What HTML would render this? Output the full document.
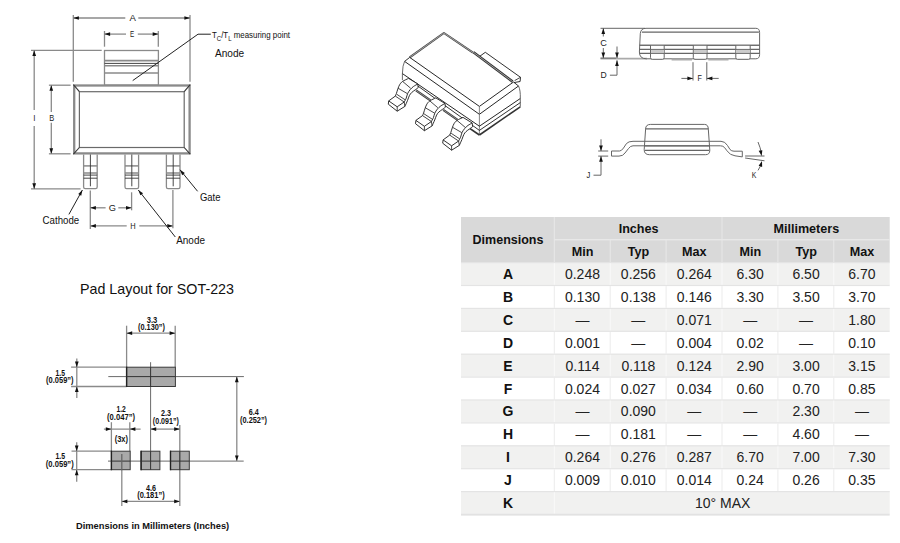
<!DOCTYPE html>
<html><head><meta charset="utf-8"><style>
html,body{margin:0;padding:0;background:#fff;width:900px;height:543px;overflow:hidden}
svg{display:block}
text{font-family:"Liberation Sans",sans-serif}
</style></head><body>
<svg width="900" height="543" viewBox="0 0 900 543">
<line x1="73.3" y1="15" x2="73.3" y2="81.7" stroke="#8a8a8a" stroke-width="1.3" stroke-linecap="butt"/>
<line x1="190" y1="15" x2="190" y2="81.7" stroke="#8a8a8a" stroke-width="1.3" stroke-linecap="butt"/>
<line x1="73.3" y1="18" x2="125.3" y2="18" stroke="#8a8a8a" stroke-width="1.3" stroke-linecap="butt"/>
<line x1="138.3" y1="18" x2="190" y2="18" stroke="#8a8a8a" stroke-width="1.3" stroke-linecap="butt"/>
<path d="M73.3,18 L78.9,16.15 L78.9,19.85Z" fill="#111"/>
<path d="M190,18 L184.4,19.85 L184.4,16.15Z" fill="#111"/>
<text x="132.8" y="20.8" font-size="8.8" text-anchor="middle" font-weight="normal" fill="#222"  textLength="6.4" lengthAdjust="spacingAndGlyphs">A</text>
<line x1="104.5" y1="31" x2="104.5" y2="46.7" stroke="#8a8a8a" stroke-width="1.3" stroke-linecap="butt"/>
<line x1="158.3" y1="31" x2="158.3" y2="46.7" stroke="#8a8a8a" stroke-width="1.3" stroke-linecap="butt"/>
<line x1="104.5" y1="34.1" x2="126" y2="34.1" stroke="#8a8a8a" stroke-width="1.3" stroke-linecap="butt"/>
<line x1="137.8" y1="34.1" x2="158.3" y2="34.1" stroke="#8a8a8a" stroke-width="1.3" stroke-linecap="butt"/>
<path d="M104.5,34.1 L110.1,32.25 L110.1,35.95Z" fill="#111"/>
<path d="M158.3,34.1 L152.7,35.95 L152.7,32.25Z" fill="#111"/>
<text x="132.2" y="37.1" font-size="8.8" text-anchor="middle" font-weight="normal" fill="#222"  textLength="4.2" lengthAdjust="spacingAndGlyphs">E</text>
<rect x="104.5" y="50.5" width="53.9" height="34.7" fill="none" stroke="#8a8a8a" stroke-width="1.3"/>
<line x1="104.5" y1="60.6" x2="158.3" y2="60.6" stroke="#8a8a8a" stroke-width="1.6" stroke-linecap="butt"/>
<line x1="104.5" y1="63.4" x2="158.3" y2="63.4" stroke="#444" stroke-width="1" stroke-linecap="butt"/>
<line x1="104.5" y1="65.7" x2="158.3" y2="65.7" stroke="#8a8a8a" stroke-width="1.6" stroke-linecap="butt"/>
<line x1="104.5" y1="73" x2="158.3" y2="73" stroke="#8a8a8a" stroke-width="1.6" stroke-linecap="butt"/>
<line x1="31" y1="50.3" x2="101.7" y2="50.3" stroke="#8a8a8a" stroke-width="1.3" stroke-linecap="butt"/>
<line x1="31" y1="188.9" x2="80.6" y2="188.9" stroke="#8a8a8a" stroke-width="1.3" stroke-linecap="butt"/>
<line x1="34.2" y1="50.3" x2="34.2" y2="110" stroke="#8a8a8a" stroke-width="1.3" stroke-linecap="butt"/>
<line x1="34.2" y1="126" x2="34.2" y2="188.9" stroke="#8a8a8a" stroke-width="1.3" stroke-linecap="butt"/>
<path d="M34.2,50.3 L36.05,55.9 L32.35,55.9Z" fill="#111"/>
<path d="M34.2,188.9 L32.35,183.3 L36.05,183.3Z" fill="#111"/>
<text x="34.3" y="120.9" font-size="8.8" text-anchor="middle" font-weight="normal" fill="#222"  textLength="2.2" lengthAdjust="spacingAndGlyphs">I</text>
<rect x="74.2" y="85.5" width="115.4" height="67.9" fill="none" stroke="#8a8a8a" stroke-width="2.3"/>
<rect x="79.4" y="91.7" width="104.8" height="55.8" fill="none" stroke="#6a6a6a" stroke-width="1.2"/>
<line x1="73.4" y1="84.7" x2="79.4" y2="91.7" stroke="#333" stroke-width="1.1" stroke-linecap="butt"/>
<line x1="190.2" y1="84.7" x2="184.2" y2="91.7" stroke="#333" stroke-width="1.1" stroke-linecap="butt"/>
<line x1="73.4" y1="154.1" x2="79.4" y2="147.5" stroke="#333" stroke-width="1.1" stroke-linecap="butt"/>
<line x1="190.2" y1="154.1" x2="184.2" y2="147.5" stroke="#333" stroke-width="1.1" stroke-linecap="butt"/>
<line x1="48.9" y1="85.2" x2="70.6" y2="85.2" stroke="#8a8a8a" stroke-width="1.3" stroke-linecap="butt"/>
<line x1="48.9" y1="153.8" x2="70.6" y2="153.8" stroke="#8a8a8a" stroke-width="1.3" stroke-linecap="butt"/>
<line x1="51.3" y1="85.2" x2="51.3" y2="112" stroke="#8a8a8a" stroke-width="1.3" stroke-linecap="butt"/>
<line x1="51.3" y1="122.8" x2="51.3" y2="153.8" stroke="#8a8a8a" stroke-width="1.3" stroke-linecap="butt"/>
<path d="M51.3,85.2 L53.15,90.8 L49.45,90.8Z" fill="#111"/>
<path d="M51.3,153.8 L49.45,148.2 L53.15,148.2Z" fill="#111"/>
<text x="51.7" y="121.1" font-size="8.8" text-anchor="middle" font-weight="normal" fill="#222"  textLength="5" lengthAdjust="spacingAndGlyphs">B</text>
<path d="M83.6,154.5 L83.6,187 Q83.6,188.6 85.2,188.6 L95.6,188.6 Q97.2,188.6 97.2,187 L97.2,154.5" fill="none" stroke="#8a8a8a" stroke-width="1.3" stroke-linejoin="round" />
<line x1="83.6" y1="165.9" x2="97.2" y2="165.9" stroke="#8a8a8a" stroke-width="1.5" stroke-linecap="butt"/>
<line x1="83.6" y1="173" x2="97.2" y2="173" stroke="#8a8a8a" stroke-width="1.5" stroke-linecap="butt"/>
<line x1="83.6" y1="175.1" x2="97.2" y2="175.1" stroke="#333" stroke-width="0.9" stroke-linecap="butt"/>
<line x1="83.6" y1="178.2" x2="97.2" y2="178.2" stroke="#333" stroke-width="0.9" stroke-linecap="butt"/>
<line x1="90.4" y1="154.5" x2="90.4" y2="186.3" stroke="#333" stroke-width="0.9" stroke-linecap="butt"/>
<path d="M125,154.5 L125,187 Q125,188.6 126.6,188.6 L137,188.6 Q138.6,188.6 138.6,187 L138.6,154.5" fill="none" stroke="#8a8a8a" stroke-width="1.3" stroke-linejoin="round" />
<line x1="125" y1="165.9" x2="138.6" y2="165.9" stroke="#8a8a8a" stroke-width="1.5" stroke-linecap="butt"/>
<line x1="125" y1="173" x2="138.6" y2="173" stroke="#8a8a8a" stroke-width="1.5" stroke-linecap="butt"/>
<line x1="125" y1="175.1" x2="138.6" y2="175.1" stroke="#333" stroke-width="0.9" stroke-linecap="butt"/>
<line x1="125" y1="178.2" x2="138.6" y2="178.2" stroke="#333" stroke-width="0.9" stroke-linecap="butt"/>
<line x1="131.8" y1="154.5" x2="131.8" y2="186.3" stroke="#333" stroke-width="0.9" stroke-linecap="butt"/>
<path d="M166.4,154.5 L166.4,187 Q166.4,188.6 168,188.6 L178.4,188.6 Q180,188.6 180,187 L180,154.5" fill="none" stroke="#8a8a8a" stroke-width="1.3" stroke-linejoin="round" />
<line x1="166.4" y1="165.9" x2="180" y2="165.9" stroke="#8a8a8a" stroke-width="1.5" stroke-linecap="butt"/>
<line x1="166.4" y1="173" x2="180" y2="173" stroke="#8a8a8a" stroke-width="1.5" stroke-linecap="butt"/>
<line x1="166.4" y1="175.1" x2="180" y2="175.1" stroke="#333" stroke-width="0.9" stroke-linecap="butt"/>
<line x1="166.4" y1="178.2" x2="180" y2="178.2" stroke="#333" stroke-width="0.9" stroke-linecap="butt"/>
<line x1="173.2" y1="154.5" x2="173.2" y2="186.3" stroke="#333" stroke-width="0.9" stroke-linecap="butt"/>
<line x1="90.3" y1="190.6" x2="90.3" y2="228.9" stroke="#8a8a8a" stroke-width="1.3" stroke-linecap="butt"/>
<line x1="131.6" y1="192.3" x2="131.6" y2="210.3" stroke="#8a8a8a" stroke-width="1.3" stroke-linecap="butt"/>
<line x1="172.9" y1="190" x2="172.9" y2="228.3" stroke="#8a8a8a" stroke-width="1.3" stroke-linecap="butt"/>
<line x1="90.3" y1="207.8" x2="105.6" y2="207.8" stroke="#8a8a8a" stroke-width="1.3" stroke-linecap="butt"/>
<line x1="118.3" y1="207.8" x2="131.6" y2="207.8" stroke="#8a8a8a" stroke-width="1.3" stroke-linecap="butt"/>
<path d="M90.3,207.8 L95.9,205.95 L95.9,209.65Z" fill="#111"/>
<path d="M131.6,207.8 L126,209.65 L126,205.95Z" fill="#111"/>
<text x="112.4" y="210.8" font-size="8.8" text-anchor="middle" font-weight="normal" fill="#222"  textLength="7.2" lengthAdjust="spacingAndGlyphs">G</text>
<line x1="90.3" y1="225.9" x2="126.7" y2="225.9" stroke="#8a8a8a" stroke-width="1.3" stroke-linecap="butt"/>
<line x1="139.3" y1="225.9" x2="172.9" y2="225.9" stroke="#8a8a8a" stroke-width="1.3" stroke-linecap="butt"/>
<path d="M90.3,225.9 L95.9,224.05 L95.9,227.75Z" fill="#111"/>
<path d="M172.9,225.9 L167.3,227.75 L167.3,224.05Z" fill="#111"/>
<text x="133" y="229" font-size="8.8" text-anchor="middle" font-weight="normal" fill="#222"  textLength="5.4" lengthAdjust="spacingAndGlyphs">H</text>
<path d="M132.7,80.6 L198,34.2 L210.8,34.2" fill="none" stroke="#222" stroke-width="1" stroke-linejoin="round"/>
<line x1="82.4" y1="190" x2="68.9" y2="214.4" stroke="#222" stroke-width="1" stroke-linecap="butt"/>
<path d="M82.4,190 L81.22,195.64 L78.25,193.99Z" fill="#111"/>
<line x1="138.3" y1="190" x2="175.3" y2="237" stroke="#222" stroke-width="1" stroke-linecap="butt"/>
<path d="M138.3,190 L143.04,193.27 L140.37,195.37Z" fill="#111"/>
<line x1="180" y1="169.8" x2="197.6" y2="191.3" stroke="#222" stroke-width="1" stroke-linecap="butt"/>
<path d="M180,169.8 L184.8,172.98 L182.17,175.13Z" fill="#111"/>
<text x="212" y="38.3" font-size="8.6" fill="#111" textLength="78" lengthAdjust="spacingAndGlyphs">T<tspan font-size="6.5" dy="2.2">C</tspan><tspan dy="-2.2">/T</tspan><tspan font-size="6.5" dy="2.2">L</tspan><tspan dy="-2.2"> measuring point</tspan></text>
<text x="215" y="56.7" font-size="10.6" text-anchor="start" font-weight="normal" fill="#111"  textLength="29.2" lengthAdjust="spacingAndGlyphs">Anode</text>
<text x="42.6" y="224" font-size="10.6" text-anchor="start" font-weight="normal" fill="#111"  textLength="36.6" lengthAdjust="spacingAndGlyphs">Cathode</text>
<text x="176.2" y="244.3" font-size="10.6" text-anchor="start" font-weight="normal" fill="#111"  textLength="28.8" lengthAdjust="spacingAndGlyphs">Anode</text>
<text x="199.9" y="200.7" font-size="10.6" text-anchor="start" font-weight="normal" fill="#111"  textLength="20.6" lengthAdjust="spacingAndGlyphs">Gate</text>
<path d="M443.9,33 L473,52.6 L485.3,52.3 L520.5,77.3 L520.1,81.5 L518.5,86 L520.3,98.5 L520.3,106.8 L479.4,135 L402.4,81 L402.4,73.6 L404.6,61.4 L409.7,57.4Z" fill="#fff" stroke="none" stroke-width="1" stroke-linejoin="round" />
<path d="M479.9,56.2 L485.3,52.3 L520.5,77.3 L520.1,81.5 L513.9,82.6" fill="none" stroke="#1a1a1a" stroke-width="0.9" stroke-linejoin="round" />
<line x1="520.5" y1="77.3" x2="514.6" y2="80.6" stroke="#1a1a1a" stroke-width="0.8" stroke-linecap="butt"/>
<path d="M409.7,57.4 L443.9,33 L473,52.6" fill="none" stroke="#444" stroke-width="2.1" stroke-linejoin="round" />
<path d="M409.7,57.4 L443.9,33 L473,52.6" fill="none" stroke="#c8c8c8" stroke-width="0.7" stroke-linejoin="round" />
<path d="M473.5,52.3 L512.6,81.6" fill="none" stroke="#333" stroke-width="2.6" stroke-linejoin="round" />
<path d="M473.5,52.3 L512.6,81.6" fill="none" stroke="#aaa" stroke-width="0.9" stroke-linejoin="round" />
<path d="M409.7,57.4 L479.4,106.4 L513.5,82" fill="none" stroke="#1a1a1a" stroke-width="0.95" stroke-linejoin="round" />
<line x1="409.7" y1="57.4" x2="404.6" y2="61.4" stroke="#1a1a1a" stroke-width="0.9" stroke-linecap="butt"/>
<line x1="513.5" y1="82" x2="518.5" y2="86" stroke="#1a1a1a" stroke-width="0.9" stroke-linecap="butt"/>
<path d="M404.6,61.4 L479.4,114.3 L518.5,86" fill="none" stroke="#1a1a1a" stroke-width="0.95" stroke-linejoin="round" />
<path d="M404.6,61.4 Q402.6,65 402.4,73.6 L402.4,80" fill="none" stroke="#444" stroke-width="0.8" stroke-linejoin="round" />
<line x1="479.4" y1="106.4" x2="479.4" y2="135" stroke="#666" stroke-width="0.8" stroke-linecap="butt"/>
<path d="M518.5,86 Q520.6,90 520.3,98.5 L520.3,106.8" fill="none" stroke="#444" stroke-width="0.8" stroke-linejoin="round" />
<path d="M402.4,73.6 L479.4,126.2 L520.3,98.5" fill="none" stroke="#1a1a1a" stroke-width="0.95" stroke-linejoin="round" />
<path d="M479.4,130.4 L520.3,102.6" fill="none" stroke="#1a1a1a" stroke-width="0.9" stroke-linejoin="round" />
<path d="M410,80.3 L479.4,130.4" fill="none" stroke="#1a1a1a" stroke-width="0.9" stroke-linejoin="round" />
<path d="M479.4,135 L520.3,106.8" fill="none" stroke="#333" stroke-width="1.6" stroke-linejoin="round" />
<path d="M462,123.2 L479.4,135" fill="none" stroke="#333" stroke-width="1.6" stroke-linejoin="round" />
<path d="M388.7,100.9L395.3,96.1 C395.48,95.67 395.97,94.72 396.4,93.5 C396.83,92.28 397.35,90.28 397.9,88.8 C398.45,87.32 398.92,85.83 399.7,84.6 C400.48,83.37 401.12,82.43 402.6,81.4 C404.08,80.37 407.6,78.9 408.6,78.4 L417.8,84 L418.2,87.7 C417.7,88.07 416.3,89.08 415.2,89.9 C414.1,90.72 412.57,91.65 411.6,92.6 C410.63,93.55 410.08,94.28 409.4,95.6 C408.72,96.92 408.25,98.7 407.5,100.5 C406.75,102.3 405.33,105.42 404.9,106.4 L397.2,111.2 L388.3,104.2Z" fill="#fff" stroke="#1a1a1a" stroke-width="0.9" stroke-linejoin="round" />
<path d="M404.2,102 C404.53,101.37 405.63,99.6 406.2,98.2 C406.77,96.8 406.93,95.03 407.6,93.6 C408.27,92.17 409.2,90.8 410.2,89.6 C411.2,88.4 412.33,87.33 413.6,86.4 C414.87,85.47 417.1,84.4 417.8,84" fill="none" stroke="#1a1a1a" stroke-width="0.9" stroke-linejoin="round" />
<path d="M388.7,100.9 L397.2,106.8 L404.2,102" fill="none" stroke="#1a1a1a" stroke-width="0.9" stroke-linejoin="round" />
<line x1="397.2" y1="106.8" x2="397.2" y2="111.2" stroke="#1a1a1a" stroke-width="0.8" stroke-linecap="butt"/>
<line x1="404.2" y1="102" x2="404.9" y2="106.4" stroke="#1a1a1a" stroke-width="0.8" stroke-linecap="butt"/>
<line x1="395.3" y1="96.1" x2="404.2" y2="102" stroke="#1a1a1a" stroke-width="0.8" stroke-linecap="butt"/>
<line x1="396.8" y1="94.3" x2="405.3" y2="99.9" stroke="#1a1a1a" stroke-width="0.8" stroke-linecap="butt"/>
<line x1="398.2" y1="88.3" x2="407.3" y2="93.6" stroke="#1a1a1a" stroke-width="0.8" stroke-linecap="butt"/>
<line x1="402.6" y1="81.4" x2="410.6" y2="88.2" stroke="#1a1a1a" stroke-width="0.8" stroke-linecap="butt"/>
<path d="M415.9,120.4L422.5,115.6 C422.68,115.17 423.17,114.22 423.6,113 C424.03,111.78 424.55,109.78 425.1,108.3 C425.65,106.82 426.12,105.33 426.9,104.1 C427.68,102.87 428.32,101.93 429.8,100.9 C431.28,99.87 434.8,98.4 435.8,97.9 L445,103.5 L445.4,107.2 C444.9,107.57 443.5,108.58 442.4,109.4 C441.3,110.22 439.77,111.15 438.8,112.1 C437.83,113.05 437.28,113.78 436.6,115.1 C435.92,116.42 435.45,118.2 434.7,120 C433.95,121.8 432.53,124.92 432.1,125.9 L424.4,130.7 L415.5,123.7Z" fill="#fff" stroke="#1a1a1a" stroke-width="0.9" stroke-linejoin="round" />
<path d="M431.4,121.5 C431.73,120.87 432.83,119.1 433.4,117.7 C433.97,116.3 434.13,114.53 434.8,113.1 C435.47,111.67 436.4,110.3 437.4,109.1 C438.4,107.9 439.53,106.83 440.8,105.9 C442.07,104.97 444.3,103.9 445,103.5" fill="none" stroke="#1a1a1a" stroke-width="0.9" stroke-linejoin="round" />
<path d="M415.9,120.4 L424.4,126.3 L431.4,121.5" fill="none" stroke="#1a1a1a" stroke-width="0.9" stroke-linejoin="round" />
<line x1="424.4" y1="126.3" x2="424.4" y2="130.7" stroke="#1a1a1a" stroke-width="0.8" stroke-linecap="butt"/>
<line x1="431.4" y1="121.5" x2="432.1" y2="125.9" stroke="#1a1a1a" stroke-width="0.8" stroke-linecap="butt"/>
<line x1="422.5" y1="115.6" x2="431.4" y2="121.5" stroke="#1a1a1a" stroke-width="0.8" stroke-linecap="butt"/>
<line x1="424" y1="113.8" x2="432.5" y2="119.4" stroke="#1a1a1a" stroke-width="0.8" stroke-linecap="butt"/>
<line x1="425.4" y1="107.8" x2="434.5" y2="113.1" stroke="#1a1a1a" stroke-width="0.8" stroke-linecap="butt"/>
<line x1="429.8" y1="100.9" x2="437.8" y2="107.7" stroke="#1a1a1a" stroke-width="0.8" stroke-linecap="butt"/>
<path d="M443.1,139.9L449.7,135.1 C449.88,134.67 450.37,133.72 450.8,132.5 C451.23,131.28 451.75,129.28 452.3,127.8 C452.85,126.32 453.32,124.83 454.1,123.6 C454.88,122.37 455.52,121.43 457,120.4 C458.48,119.37 462,117.9 463,117.4 L472.2,123 L472.6,126.7 C472.1,127.07 470.7,128.08 469.6,128.9 C468.5,129.72 466.97,130.65 466,131.6 C465.03,132.55 464.48,133.28 463.8,134.6 C463.12,135.92 462.65,137.7 461.9,139.5 C461.15,141.3 459.73,144.42 459.3,145.4 L451.6,150.2 L442.7,143.2Z" fill="#fff" stroke="#1a1a1a" stroke-width="0.9" stroke-linejoin="round" />
<path d="M458.6,141 C458.93,140.37 460.03,138.6 460.6,137.2 C461.17,135.8 461.33,134.03 462,132.6 C462.67,131.17 463.6,129.8 464.6,128.6 C465.6,127.4 466.73,126.33 468,125.4 C469.27,124.47 471.5,123.4 472.2,123" fill="none" stroke="#1a1a1a" stroke-width="0.9" stroke-linejoin="round" />
<path d="M443.1,139.9 L451.6,145.8 L458.6,141" fill="none" stroke="#1a1a1a" stroke-width="0.9" stroke-linejoin="round" />
<line x1="451.6" y1="145.8" x2="451.6" y2="150.2" stroke="#1a1a1a" stroke-width="0.8" stroke-linecap="butt"/>
<line x1="458.6" y1="141" x2="459.3" y2="145.4" stroke="#1a1a1a" stroke-width="0.8" stroke-linecap="butt"/>
<line x1="449.7" y1="135.1" x2="458.6" y2="141" stroke="#1a1a1a" stroke-width="0.8" stroke-linecap="butt"/>
<line x1="451.2" y1="133.3" x2="459.7" y2="138.9" stroke="#1a1a1a" stroke-width="0.8" stroke-linecap="butt"/>
<line x1="452.6" y1="127.3" x2="461.7" y2="132.6" stroke="#1a1a1a" stroke-width="0.8" stroke-linecap="butt"/>
<line x1="457" y1="120.4" x2="465" y2="127.2" stroke="#1a1a1a" stroke-width="0.8" stroke-linecap="butt"/>
<line x1="416" y1="90.4" x2="430.4" y2="100.3" stroke="#333" stroke-width="2.2" stroke-linecap="butt"/>
<line x1="416" y1="90.4" x2="430.4" y2="100.3" stroke="#999" stroke-width="0.9" stroke-linecap="butt"/>
<line x1="443.2" y1="109.9" x2="457.6" y2="119.8" stroke="#333" stroke-width="2.2" stroke-linecap="butt"/>
<line x1="443.2" y1="109.9" x2="457.6" y2="119.8" stroke="#999" stroke-width="0.9" stroke-linecap="butt"/>
<line x1="600.5" y1="28.3" x2="645" y2="28.3" stroke="#666" stroke-width="1" stroke-linecap="butt"/>
<line x1="600.5" y1="58.6" x2="647" y2="58.6" stroke="#aaa" stroke-width="1.6" stroke-linecap="butt"/>
<line x1="600.5" y1="58.1" x2="616" y2="58.1" stroke="#666" stroke-width="1" stroke-linecap="butt"/>
<line x1="603.3" y1="28.3" x2="603.3" y2="36.5" stroke="#666" stroke-width="1" stroke-linecap="butt"/>
<line x1="603.3" y1="48" x2="603.3" y2="58.1" stroke="#666" stroke-width="1" stroke-linecap="butt"/>
<path d="M603.3,28.3 L605.15,33.9 L601.45,33.9Z" fill="#111"/>
<path d="M603.3,58.1 L601.45,52.5 L605.15,52.5Z" fill="#111"/>
<text x="603.6" y="45.6" font-size="8.8" text-anchor="middle" font-weight="normal" fill="#222"  textLength="6.6" lengthAdjust="spacingAndGlyphs">C</text>
<line x1="617" y1="46.5" x2="617" y2="58.1" stroke="#666" stroke-width="1" stroke-linecap="butt"/>
<path d="M617,58.1 L615.15,52.5 L618.85,52.5Z" fill="#111"/>
<path d="M617,60.3 L617,75.2 L609.9,75.2" fill="none" stroke="#666" stroke-width="1" stroke-linejoin="round" />
<path d="M617,60.3 L618.85,65.9 L615.15,65.9Z" fill="#111"/>
<text x="603.6" y="78.2" font-size="8.8" text-anchor="middle" font-weight="normal" fill="#222"  textLength="6.2" lengthAdjust="spacingAndGlyphs">D</text>
<path d="M646,28.3 L755.8,28.3 Q759.6,28.3 759.6,32.5 L759.6,54.5 Q759.6,58.8 755.8,58.8 L646.5,58.8 Q639.4,58.8 639.4,52 L640.3,33.5 Q640.8,28.3 646,28.3Z" fill="none" stroke="#666" stroke-width="1" stroke-linejoin="round" />
<line x1="641.9" y1="32.1" x2="758.9" y2="32.1" stroke="#666" stroke-width="1.1" stroke-linecap="butt"/>
<line x1="639.6" y1="45.2" x2="759.6" y2="45.2" stroke="#666" stroke-width="1.1" stroke-linecap="butt"/>
<line x1="639.6" y1="49.4" x2="759.6" y2="49.4" stroke="#666" stroke-width="1.1" stroke-linecap="butt"/>
<line x1="639.6" y1="53.4" x2="759.6" y2="53.4" stroke="#666" stroke-width="1.1" stroke-linecap="butt"/>
<rect x="650.5" y="49.4" width="13.7" height="4" fill="#ccc"/>
<path d="M650.5,45.2 L650.5,57.6 Q650.5,59.3 652.2,59.3 L662.5,59.3 Q664.2,59.3 664.2,57.6 L664.2,45.2" fill="#fff" stroke="#666" stroke-width="1" stroke-linejoin="round" />
<rect x="651.1" y="49.9" width="12.5" height="3" fill="#ccc"/>
<line x1="650.5" y1="49.4" x2="664.2" y2="49.4" stroke="#666" stroke-width="1" stroke-linecap="butt"/>
<line x1="650.5" y1="53.4" x2="664.2" y2="53.4" stroke="#666" stroke-width="1" stroke-linecap="butt"/>
<rect x="693.3" y="49.4" width="13.7" height="4" fill="#ccc"/>
<path d="M693.3,45.2 L693.3,57.6 Q693.3,59.3 695,59.3 L705.3,59.3 Q707,59.3 707,57.6 L707,45.2" fill="#fff" stroke="#666" stroke-width="1" stroke-linejoin="round" />
<rect x="693.9" y="49.9" width="12.5" height="3" fill="#ccc"/>
<line x1="693.3" y1="49.4" x2="707" y2="49.4" stroke="#666" stroke-width="1" stroke-linecap="butt"/>
<line x1="693.3" y1="53.4" x2="707" y2="53.4" stroke="#666" stroke-width="1" stroke-linecap="butt"/>
<rect x="735.8" y="49.4" width="14.4" height="4" fill="#ccc"/>
<path d="M735.8,45.2 L735.8,57.6 Q735.8,59.3 737.5,59.3 L748.5,59.3 Q750.2,59.3 750.2,57.6 L750.2,45.2" fill="#fff" stroke="#666" stroke-width="1" stroke-linejoin="round" />
<rect x="736.4" y="49.9" width="13.2" height="3" fill="#ccc"/>
<line x1="735.8" y1="49.4" x2="750.2" y2="49.4" stroke="#666" stroke-width="1" stroke-linecap="butt"/>
<line x1="735.8" y1="53.4" x2="750.2" y2="53.4" stroke="#666" stroke-width="1" stroke-linecap="butt"/>
<line x1="639.6" y1="45.2" x2="759.6" y2="45.2" stroke="#666" stroke-width="1.1" stroke-linecap="butt"/>
<line x1="671.6" y1="59.5" x2="692" y2="59.5" stroke="#aaa" stroke-width="2" stroke-linecap="butt"/>
<line x1="708.3" y1="59.5" x2="728.5" y2="59.5" stroke="#aaa" stroke-width="2" stroke-linecap="butt"/>
<line x1="693" y1="62.2" x2="693" y2="80.5" stroke="#666" stroke-width="1" stroke-linecap="butt"/>
<line x1="706.8" y1="62.2" x2="706.8" y2="80.5" stroke="#666" stroke-width="1" stroke-linecap="butt"/>
<line x1="681.4" y1="78.4" x2="693" y2="78.4" stroke="#666" stroke-width="1" stroke-linecap="butt"/>
<path d="M693,78.4 L687.4,80.25 L687.4,76.55Z" fill="#111"/>
<line x1="706.8" y1="78.4" x2="718.7" y2="78.4" stroke="#666" stroke-width="1" stroke-linecap="butt"/>
<path d="M706.8,78.4 L712.4,76.55 L712.4,80.25Z" fill="#111"/>
<text x="699.8" y="80.8" font-size="8.8" text-anchor="middle" font-weight="normal" fill="#222"  textLength="4.4" lengthAdjust="spacingAndGlyphs">F</text>
<path d="M633,141.3 L721,141.3 Q725,141.3 727.5,145.5 L730,149.5 Q731.5,151.2 734,151.2 L742.3,151.2 L742.3,156.9 L735,155.8 Q730,155.3 727,150.8 L724.5,147.5 Q723,145.8 720.5,145.8 L633,145.8 Q630.5,145.8 628.5,148.5 L625,153 Q623,156.1 619,156.1 L611.5,156.1 L611.5,151 L619.5,151 Q621.5,151 623.5,148 L626.5,143.5 Q628.5,141.3 633,141.3Z" fill="none" stroke="#666" stroke-width="1" stroke-linejoin="round" />
<path d="M650.6,124.4 L704.4,124.4 Q708.3,124.4 708.3,129.1 L709.8,150.2 Q709.8,154.7 705.6,154.7 L649.4,154.7 Q644.2,154.7 644.2,149.7 L645.6,129.1 Q645.6,124.4 650.6,124.4Z" fill="none" stroke="#666" stroke-width="1" stroke-linejoin="round" />
<line x1="645.6" y1="128.8" x2="708.3" y2="128.8" stroke="#666" stroke-width="1.3" stroke-linecap="butt"/>
<line x1="645" y1="150.4" x2="709.3" y2="150.4" stroke="#666" stroke-width="1.1" stroke-linecap="butt"/>
<line x1="644.6" y1="145.8" x2="709.6" y2="145.8" stroke="#666" stroke-width="1.3" stroke-linecap="butt"/>
<line x1="598.2" y1="151" x2="608.2" y2="151" stroke="#666" stroke-width="1" stroke-linecap="butt"/>
<line x1="598.2" y1="156.1" x2="608.2" y2="156.1" stroke="#666" stroke-width="1" stroke-linecap="butt"/>
<line x1="601" y1="139.3" x2="601" y2="151" stroke="#666" stroke-width="1" stroke-linecap="butt"/>
<path d="M601,151 L599.15,145.4 L602.85,145.4Z" fill="#111"/>
<path d="M601,156.1 L601,175.2 L593.5,175.2" fill="none" stroke="#666" stroke-width="1" stroke-linejoin="round" />
<path d="M601,156.1 L602.85,161.7 L599.15,161.7Z" fill="#111"/>
<text x="588.5" y="178" font-size="8.8" text-anchor="middle" font-weight="normal" fill="#222"  textLength="3.8" lengthAdjust="spacingAndGlyphs">J</text>
<line x1="745.1" y1="156" x2="764.5" y2="156" stroke="#666" stroke-width="1" stroke-linecap="butt"/>
<line x1="745.1" y1="158" x2="764.5" y2="160.8" stroke="#666" stroke-width="1" stroke-linecap="butt"/>
<path d="M758,142 Q760.5,148 761.4,153" fill="none" stroke="#666" stroke-width="1" stroke-linejoin="round" />
<path d="M761.6,156 L758.69,150.87 L762.32,150.15Z" fill="#111"/>
<path d="M758,170.4 Q760.5,166 761.5,164" fill="none" stroke="#666" stroke-width="1" stroke-linejoin="round" />
<path d="M762,161 L762.16,166.9 L758.62,165.83Z" fill="#111"/>
<text x="754.1" y="178.2" font-size="8.8" text-anchor="middle" font-weight="normal" fill="#222"  textLength="4.6" lengthAdjust="spacingAndGlyphs">K</text>
<rect x="461" y="217" width="428.7" height="45.3" fill="#d9d9d9"/>
<rect x="461" y="262.3" width="428.7" height="22.9" fill="#f1f1f0"/>
<rect x="461" y="285.2" width="428.7" height="22.9" fill="#ffffff"/>
<rect x="461" y="308.1" width="428.7" height="22.9" fill="#f1f1f0"/>
<rect x="461" y="331" width="428.7" height="22.9" fill="#ffffff"/>
<rect x="461" y="353.9" width="428.7" height="22.9" fill="#f1f1f0"/>
<rect x="461" y="376.8" width="428.7" height="22.9" fill="#ffffff"/>
<rect x="461" y="399.7" width="428.7" height="22.9" fill="#f1f1f0"/>
<rect x="461" y="422.6" width="428.7" height="22.9" fill="#ffffff"/>
<rect x="461" y="445.5" width="428.7" height="22.9" fill="#f1f1f0"/>
<rect x="461" y="468.4" width="428.7" height="22.9" fill="#ffffff"/>
<rect x="461" y="491.3" width="428.7" height="22.9" fill="#f1f1f0"/>
<rect x="553.8" y="217" width="1" height="45.3" fill="#e8e8e8"/>
<rect x="721.5" y="217" width="1" height="45.3" fill="#e8e8e8"/>
<rect x="554.3" y="239" width="335.4" height="1.4" fill="#e8e8e8"/>
<rect x="609.7" y="239.3" width="1" height="23" fill="#e8e8e8"/>
<rect x="665.6" y="239.3" width="1" height="23" fill="#e8e8e8"/>
<rect x="777.4" y="239.3" width="1" height="23" fill="#e8e8e8"/>
<rect x="833.3" y="239.3" width="1" height="23" fill="#e8e8e8"/>
<rect x="461" y="262" width="428.7" height="1.2" fill="#e4e4e4"/>
<rect x="553.8" y="263.2" width="1" height="21.7" fill="#f9f9f9"/>
<rect x="609.7" y="263.2" width="1" height="21.7" fill="#f9f9f9"/>
<rect x="665.6" y="263.2" width="1" height="21.7" fill="#f9f9f9"/>
<rect x="721.5" y="263.2" width="1" height="21.7" fill="#f9f9f9"/>
<rect x="777.4" y="263.2" width="1" height="21.7" fill="#f9f9f9"/>
<rect x="833.3" y="263.2" width="1" height="21.7" fill="#f9f9f9"/>
<rect x="461" y="284.9" width="428.7" height="1.2" fill="#e4e4e4"/>
<rect x="553.8" y="286.1" width="1" height="21.7" fill="#ebebeb"/>
<rect x="609.7" y="286.1" width="1" height="21.7" fill="#ebebeb"/>
<rect x="665.6" y="286.1" width="1" height="21.7" fill="#ebebeb"/>
<rect x="721.5" y="286.1" width="1" height="21.7" fill="#ebebeb"/>
<rect x="777.4" y="286.1" width="1" height="21.7" fill="#ebebeb"/>
<rect x="833.3" y="286.1" width="1" height="21.7" fill="#ebebeb"/>
<rect x="461" y="307.8" width="428.7" height="1.2" fill="#e4e4e4"/>
<rect x="553.8" y="309" width="1" height="21.7" fill="#f9f9f9"/>
<rect x="609.7" y="309" width="1" height="21.7" fill="#f9f9f9"/>
<rect x="665.6" y="309" width="1" height="21.7" fill="#f9f9f9"/>
<rect x="721.5" y="309" width="1" height="21.7" fill="#f9f9f9"/>
<rect x="777.4" y="309" width="1" height="21.7" fill="#f9f9f9"/>
<rect x="833.3" y="309" width="1" height="21.7" fill="#f9f9f9"/>
<rect x="461" y="330.7" width="428.7" height="1.2" fill="#e4e4e4"/>
<rect x="553.8" y="331.9" width="1" height="21.7" fill="#ebebeb"/>
<rect x="609.7" y="331.9" width="1" height="21.7" fill="#ebebeb"/>
<rect x="665.6" y="331.9" width="1" height="21.7" fill="#ebebeb"/>
<rect x="721.5" y="331.9" width="1" height="21.7" fill="#ebebeb"/>
<rect x="777.4" y="331.9" width="1" height="21.7" fill="#ebebeb"/>
<rect x="833.3" y="331.9" width="1" height="21.7" fill="#ebebeb"/>
<rect x="461" y="353.6" width="428.7" height="1.2" fill="#e4e4e4"/>
<rect x="553.8" y="354.8" width="1" height="21.7" fill="#f9f9f9"/>
<rect x="609.7" y="354.8" width="1" height="21.7" fill="#f9f9f9"/>
<rect x="665.6" y="354.8" width="1" height="21.7" fill="#f9f9f9"/>
<rect x="721.5" y="354.8" width="1" height="21.7" fill="#f9f9f9"/>
<rect x="777.4" y="354.8" width="1" height="21.7" fill="#f9f9f9"/>
<rect x="833.3" y="354.8" width="1" height="21.7" fill="#f9f9f9"/>
<rect x="461" y="376.5" width="428.7" height="1.2" fill="#e4e4e4"/>
<rect x="553.8" y="377.7" width="1" height="21.7" fill="#ebebeb"/>
<rect x="609.7" y="377.7" width="1" height="21.7" fill="#ebebeb"/>
<rect x="665.6" y="377.7" width="1" height="21.7" fill="#ebebeb"/>
<rect x="721.5" y="377.7" width="1" height="21.7" fill="#ebebeb"/>
<rect x="777.4" y="377.7" width="1" height="21.7" fill="#ebebeb"/>
<rect x="833.3" y="377.7" width="1" height="21.7" fill="#ebebeb"/>
<rect x="461" y="399.4" width="428.7" height="1.2" fill="#e4e4e4"/>
<rect x="553.8" y="400.6" width="1" height="21.7" fill="#f9f9f9"/>
<rect x="609.7" y="400.6" width="1" height="21.7" fill="#f9f9f9"/>
<rect x="665.6" y="400.6" width="1" height="21.7" fill="#f9f9f9"/>
<rect x="721.5" y="400.6" width="1" height="21.7" fill="#f9f9f9"/>
<rect x="777.4" y="400.6" width="1" height="21.7" fill="#f9f9f9"/>
<rect x="833.3" y="400.6" width="1" height="21.7" fill="#f9f9f9"/>
<rect x="461" y="422.3" width="428.7" height="1.2" fill="#e4e4e4"/>
<rect x="553.8" y="423.5" width="1" height="21.7" fill="#ebebeb"/>
<rect x="609.7" y="423.5" width="1" height="21.7" fill="#ebebeb"/>
<rect x="665.6" y="423.5" width="1" height="21.7" fill="#ebebeb"/>
<rect x="721.5" y="423.5" width="1" height="21.7" fill="#ebebeb"/>
<rect x="777.4" y="423.5" width="1" height="21.7" fill="#ebebeb"/>
<rect x="833.3" y="423.5" width="1" height="21.7" fill="#ebebeb"/>
<rect x="461" y="445.2" width="428.7" height="1.2" fill="#e4e4e4"/>
<rect x="553.8" y="446.4" width="1" height="21.7" fill="#f9f9f9"/>
<rect x="609.7" y="446.4" width="1" height="21.7" fill="#f9f9f9"/>
<rect x="665.6" y="446.4" width="1" height="21.7" fill="#f9f9f9"/>
<rect x="721.5" y="446.4" width="1" height="21.7" fill="#f9f9f9"/>
<rect x="777.4" y="446.4" width="1" height="21.7" fill="#f9f9f9"/>
<rect x="833.3" y="446.4" width="1" height="21.7" fill="#f9f9f9"/>
<rect x="461" y="468.1" width="428.7" height="1.2" fill="#e4e4e4"/>
<rect x="553.8" y="469.3" width="1" height="21.7" fill="#ebebeb"/>
<rect x="609.7" y="469.3" width="1" height="21.7" fill="#ebebeb"/>
<rect x="665.6" y="469.3" width="1" height="21.7" fill="#ebebeb"/>
<rect x="721.5" y="469.3" width="1" height="21.7" fill="#ebebeb"/>
<rect x="777.4" y="469.3" width="1" height="21.7" fill="#ebebeb"/>
<rect x="833.3" y="469.3" width="1" height="21.7" fill="#ebebeb"/>
<rect x="461" y="491" width="428.7" height="1.2" fill="#e4e4e4"/>
<rect x="553.8" y="492.2" width="1" height="21.7" fill="#f9f9f9"/>
<rect x="461" y="513.8" width="428.7" height="1.8" fill="#e2e2e2"/>
<text x="508" y="243.9" font-size="12.5" text-anchor="middle" font-weight="bold" fill="#111" >Dimensions</text>
<text x="638.6" y="233" font-size="12.6" text-anchor="middle" font-weight="bold" fill="#111" >Inches</text>
<text x="806.3" y="233" font-size="12.6" text-anchor="middle" font-weight="bold" fill="#111" >Millimeters</text>
<text x="582.55" y="256.1" font-size="12.6" text-anchor="middle" font-weight="bold" fill="#111" >Min</text>
<text x="638.45" y="256.1" font-size="12.6" text-anchor="middle" font-weight="bold" fill="#111" >Typ</text>
<text x="694.35" y="256.1" font-size="12.6" text-anchor="middle" font-weight="bold" fill="#111" >Max</text>
<text x="750.25" y="256.1" font-size="12.6" text-anchor="middle" font-weight="bold" fill="#111" >Min</text>
<text x="806.15" y="256.1" font-size="12.6" text-anchor="middle" font-weight="bold" fill="#111" >Typ</text>
<text x="862.05" y="256.1" font-size="12.6" text-anchor="middle" font-weight="bold" fill="#111" >Max</text>
<text transform="translate(508,279.2) scale(1,1.08)" font-size="14" text-anchor="middle" font-weight="bold" fill="#111">A</text>
<text transform="translate(582.45,279.2) scale(1,1.07)" font-size="14" text-anchor="middle" font-weight="normal" fill="#222">0.248</text>
<text transform="translate(638.35,279.2) scale(1,1.07)" font-size="14" text-anchor="middle" font-weight="normal" fill="#222">0.256</text>
<text transform="translate(694.25,279.2) scale(1,1.07)" font-size="14" text-anchor="middle" font-weight="normal" fill="#222">0.264</text>
<text transform="translate(750.15,279.2) scale(1,1.07)" font-size="14" text-anchor="middle" font-weight="normal" fill="#222">6.30</text>
<text transform="translate(806.05,279.2) scale(1,1.07)" font-size="14" text-anchor="middle" font-weight="normal" fill="#222">6.50</text>
<text transform="translate(861.95,279.2) scale(1,1.07)" font-size="14" text-anchor="middle" font-weight="normal" fill="#222">6.70</text>
<text transform="translate(508,302.07) scale(1,1.08)" font-size="14" text-anchor="middle" font-weight="bold" fill="#111">B</text>
<text transform="translate(582.45,302.07) scale(1,1.07)" font-size="14" text-anchor="middle" font-weight="normal" fill="#222">0.130</text>
<text transform="translate(638.35,302.07) scale(1,1.07)" font-size="14" text-anchor="middle" font-weight="normal" fill="#222">0.138</text>
<text transform="translate(694.25,302.07) scale(1,1.07)" font-size="14" text-anchor="middle" font-weight="normal" fill="#222">0.146</text>
<text transform="translate(750.15,302.07) scale(1,1.07)" font-size="14" text-anchor="middle" font-weight="normal" fill="#222">3.30</text>
<text transform="translate(806.05,302.07) scale(1,1.07)" font-size="14" text-anchor="middle" font-weight="normal" fill="#222">3.50</text>
<text transform="translate(861.95,302.07) scale(1,1.07)" font-size="14" text-anchor="middle" font-weight="normal" fill="#222">3.70</text>
<text transform="translate(508,324.94) scale(1,1.08)" font-size="14" text-anchor="middle" font-weight="bold" fill="#111">C</text>
<text transform="translate(582.45,324.94) scale(1,1.07)" font-size="14" text-anchor="middle" font-weight="normal" fill="#222">—</text>
<text transform="translate(638.35,324.94) scale(1,1.07)" font-size="14" text-anchor="middle" font-weight="normal" fill="#222">—</text>
<text transform="translate(694.25,324.94) scale(1,1.07)" font-size="14" text-anchor="middle" font-weight="normal" fill="#222">0.071</text>
<text transform="translate(750.15,324.94) scale(1,1.07)" font-size="14" text-anchor="middle" font-weight="normal" fill="#222">—</text>
<text transform="translate(806.05,324.94) scale(1,1.07)" font-size="14" text-anchor="middle" font-weight="normal" fill="#222">—</text>
<text transform="translate(861.95,324.94) scale(1,1.07)" font-size="14" text-anchor="middle" font-weight="normal" fill="#222">1.80</text>
<text transform="translate(508,347.81) scale(1,1.08)" font-size="14" text-anchor="middle" font-weight="bold" fill="#111">D</text>
<text transform="translate(582.45,347.81) scale(1,1.07)" font-size="14" text-anchor="middle" font-weight="normal" fill="#222">0.001</text>
<text transform="translate(638.35,347.81) scale(1,1.07)" font-size="14" text-anchor="middle" font-weight="normal" fill="#222">—</text>
<text transform="translate(694.25,347.81) scale(1,1.07)" font-size="14" text-anchor="middle" font-weight="normal" fill="#222">0.004</text>
<text transform="translate(750.15,347.81) scale(1,1.07)" font-size="14" text-anchor="middle" font-weight="normal" fill="#222">0.02</text>
<text transform="translate(806.05,347.81) scale(1,1.07)" font-size="14" text-anchor="middle" font-weight="normal" fill="#222">—</text>
<text transform="translate(861.95,347.81) scale(1,1.07)" font-size="14" text-anchor="middle" font-weight="normal" fill="#222">0.10</text>
<text transform="translate(508,370.68) scale(1,1.08)" font-size="14" text-anchor="middle" font-weight="bold" fill="#111">E</text>
<text transform="translate(582.45,370.68) scale(1,1.07)" font-size="14" text-anchor="middle" font-weight="normal" fill="#222">0.114</text>
<text transform="translate(638.35,370.68) scale(1,1.07)" font-size="14" text-anchor="middle" font-weight="normal" fill="#222">0.118</text>
<text transform="translate(694.25,370.68) scale(1,1.07)" font-size="14" text-anchor="middle" font-weight="normal" fill="#222">0.124</text>
<text transform="translate(750.15,370.68) scale(1,1.07)" font-size="14" text-anchor="middle" font-weight="normal" fill="#222">2.90</text>
<text transform="translate(806.05,370.68) scale(1,1.07)" font-size="14" text-anchor="middle" font-weight="normal" fill="#222">3.00</text>
<text transform="translate(861.95,370.68) scale(1,1.07)" font-size="14" text-anchor="middle" font-weight="normal" fill="#222">3.15</text>
<text transform="translate(508,393.55) scale(1,1.08)" font-size="14" text-anchor="middle" font-weight="bold" fill="#111">F</text>
<text transform="translate(582.45,393.55) scale(1,1.07)" font-size="14" text-anchor="middle" font-weight="normal" fill="#222">0.024</text>
<text transform="translate(638.35,393.55) scale(1,1.07)" font-size="14" text-anchor="middle" font-weight="normal" fill="#222">0.027</text>
<text transform="translate(694.25,393.55) scale(1,1.07)" font-size="14" text-anchor="middle" font-weight="normal" fill="#222">0.034</text>
<text transform="translate(750.15,393.55) scale(1,1.07)" font-size="14" text-anchor="middle" font-weight="normal" fill="#222">0.60</text>
<text transform="translate(806.05,393.55) scale(1,1.07)" font-size="14" text-anchor="middle" font-weight="normal" fill="#222">0.70</text>
<text transform="translate(861.95,393.55) scale(1,1.07)" font-size="14" text-anchor="middle" font-weight="normal" fill="#222">0.85</text>
<text transform="translate(508,416.42) scale(1,1.08)" font-size="14" text-anchor="middle" font-weight="bold" fill="#111">G</text>
<text transform="translate(582.45,416.42) scale(1,1.07)" font-size="14" text-anchor="middle" font-weight="normal" fill="#222">—</text>
<text transform="translate(638.35,416.42) scale(1,1.07)" font-size="14" text-anchor="middle" font-weight="normal" fill="#222">0.090</text>
<text transform="translate(694.25,416.42) scale(1,1.07)" font-size="14" text-anchor="middle" font-weight="normal" fill="#222">—</text>
<text transform="translate(750.15,416.42) scale(1,1.07)" font-size="14" text-anchor="middle" font-weight="normal" fill="#222">—</text>
<text transform="translate(806.05,416.42) scale(1,1.07)" font-size="14" text-anchor="middle" font-weight="normal" fill="#222">2.30</text>
<text transform="translate(861.95,416.42) scale(1,1.07)" font-size="14" text-anchor="middle" font-weight="normal" fill="#222">—</text>
<text transform="translate(508,439.29) scale(1,1.08)" font-size="14" text-anchor="middle" font-weight="bold" fill="#111">H</text>
<text transform="translate(582.45,439.29) scale(1,1.07)" font-size="14" text-anchor="middle" font-weight="normal" fill="#222">—</text>
<text transform="translate(638.35,439.29) scale(1,1.07)" font-size="14" text-anchor="middle" font-weight="normal" fill="#222">0.181</text>
<text transform="translate(694.25,439.29) scale(1,1.07)" font-size="14" text-anchor="middle" font-weight="normal" fill="#222">—</text>
<text transform="translate(750.15,439.29) scale(1,1.07)" font-size="14" text-anchor="middle" font-weight="normal" fill="#222">—</text>
<text transform="translate(806.05,439.29) scale(1,1.07)" font-size="14" text-anchor="middle" font-weight="normal" fill="#222">4.60</text>
<text transform="translate(861.95,439.29) scale(1,1.07)" font-size="14" text-anchor="middle" font-weight="normal" fill="#222">—</text>
<text transform="translate(508,462.16) scale(1,1.08)" font-size="14" text-anchor="middle" font-weight="bold" fill="#111">I</text>
<text transform="translate(582.45,462.16) scale(1,1.07)" font-size="14" text-anchor="middle" font-weight="normal" fill="#222">0.264</text>
<text transform="translate(638.35,462.16) scale(1,1.07)" font-size="14" text-anchor="middle" font-weight="normal" fill="#222">0.276</text>
<text transform="translate(694.25,462.16) scale(1,1.07)" font-size="14" text-anchor="middle" font-weight="normal" fill="#222">0.287</text>
<text transform="translate(750.15,462.16) scale(1,1.07)" font-size="14" text-anchor="middle" font-weight="normal" fill="#222">6.70</text>
<text transform="translate(806.05,462.16) scale(1,1.07)" font-size="14" text-anchor="middle" font-weight="normal" fill="#222">7.00</text>
<text transform="translate(861.95,462.16) scale(1,1.07)" font-size="14" text-anchor="middle" font-weight="normal" fill="#222">7.30</text>
<text transform="translate(508,485.03) scale(1,1.08)" font-size="14" text-anchor="middle" font-weight="bold" fill="#111">J</text>
<text transform="translate(582.45,485.03) scale(1,1.07)" font-size="14" text-anchor="middle" font-weight="normal" fill="#222">0.009</text>
<text transform="translate(638.35,485.03) scale(1,1.07)" font-size="14" text-anchor="middle" font-weight="normal" fill="#222">0.010</text>
<text transform="translate(694.25,485.03) scale(1,1.07)" font-size="14" text-anchor="middle" font-weight="normal" fill="#222">0.014</text>
<text transform="translate(750.15,485.03) scale(1,1.07)" font-size="14" text-anchor="middle" font-weight="normal" fill="#222">0.24</text>
<text transform="translate(806.05,485.03) scale(1,1.07)" font-size="14" text-anchor="middle" font-weight="normal" fill="#222">0.26</text>
<text transform="translate(861.95,485.03) scale(1,1.07)" font-size="14" text-anchor="middle" font-weight="normal" fill="#222">0.35</text>
<text transform="translate(508,507.9) scale(1,1.08)" font-size="14" text-anchor="middle" font-weight="bold" fill="#111">K</text>
<text transform="translate(722.7,507.9) scale(1,1.07)" font-size="14" text-anchor="middle" font-weight="normal" fill="#222">10° MAX</text>
<text x="80" y="293.8" font-size="14.4" text-anchor="start" font-weight="normal" fill="#111"  textLength="154" lengthAdjust="spacingAndGlyphs">Pad Layout for SOT-223</text>
<line x1="126.6" y1="325.7" x2="126.6" y2="367.2" stroke="#8a8a8a" stroke-width="1.3" stroke-linecap="butt"/>
<line x1="175.2" y1="325.7" x2="175.2" y2="367.2" stroke="#8a8a8a" stroke-width="1.3" stroke-linecap="butt"/>
<line x1="126.6" y1="333.2" x2="175.2" y2="333.2" stroke="#8a8a8a" stroke-width="1.3" stroke-linecap="butt"/>
<path d="M126.6,333.2 L132.2,331.35 L132.2,335.05Z" fill="#111"/>
<path d="M175.2,333.2 L169.6,335.05 L169.6,331.35Z" fill="#111"/>
<line x1="71.1" y1="367.2" x2="126.6" y2="367.2" stroke="#8a8a8a" stroke-width="1.3" stroke-linecap="butt"/>
<line x1="71.1" y1="386.5" x2="126.6" y2="386.5" stroke="#8a8a8a" stroke-width="1.3" stroke-linecap="butt"/>
<line x1="76.8" y1="358.5" x2="76.8" y2="398" stroke="#8a8a8a" stroke-width="1.3" stroke-linecap="butt"/>
<path d="M76.8,367.2 L74.95,361.6 L78.65,361.6Z" fill="#111"/>
<path d="M76.8,386.5 L78.65,392.1 L74.95,392.1Z" fill="#111"/>
<line x1="108.3" y1="376.6" x2="243.9" y2="376.6" stroke="#6a6a6a" stroke-width="1" stroke-linecap="butt"/>
<line x1="150.6" y1="362.2" x2="150.6" y2="469.7" stroke="#6a6a6a" stroke-width="1" stroke-linecap="butt"/>
<line x1="236.8" y1="376.6" x2="236.8" y2="461" stroke="#8a8a8a" stroke-width="1.3" stroke-linecap="butt"/>
<path d="M236.8,376.6 L238.65,382.2 L234.95,382.2Z" fill="#111"/>
<path d="M236.8,461 L234.95,455.4 L238.65,455.4Z" fill="#111"/>
<line x1="71.5" y1="451.2" x2="111.4" y2="451.2" stroke="#8a8a8a" stroke-width="1.3" stroke-linecap="butt"/>
<line x1="71.5" y1="469.7" x2="111.4" y2="469.7" stroke="#8a8a8a" stroke-width="1.3" stroke-linecap="butt"/>
<line x1="76.7" y1="442.2" x2="76.7" y2="481.7" stroke="#8a8a8a" stroke-width="1.3" stroke-linecap="butt"/>
<path d="M76.7,451.2 L74.85,445.6 L78.55,445.6Z" fill="#111"/>
<path d="M76.7,469.7 L78.55,475.3 L74.85,475.3Z" fill="#111"/>
<line x1="108" y1="461.1" x2="243.7" y2="461.1" stroke="#6a6a6a" stroke-width="1" stroke-linecap="butt"/>
<line x1="111.4" y1="422.2" x2="111.4" y2="451.2" stroke="#8a8a8a" stroke-width="1.3" stroke-linecap="butt"/>
<line x1="129.8" y1="422.2" x2="129.8" y2="451.2" stroke="#8a8a8a" stroke-width="1.3" stroke-linecap="butt"/>
<line x1="103.9" y1="429.1" x2="140.6" y2="429.1" stroke="#8a8a8a" stroke-width="1.3" stroke-linecap="butt"/>
<path d="M111.4,429.1 L105.8,430.95 L105.8,427.25Z" fill="#111"/>
<path d="M129.8,429.1 L135.4,427.25 L135.4,430.95Z" fill="#111"/>
<line x1="179.8" y1="425" x2="179.8" y2="506.1" stroke="#8a8a8a" stroke-width="1.3" stroke-linecap="butt"/>
<line x1="150.6" y1="429.1" x2="179.8" y2="429.1" stroke="#8a8a8a" stroke-width="1.3" stroke-linecap="butt"/>
<path d="M150.6,429.1 L156.2,427.25 L156.2,430.95Z" fill="#111"/>
<path d="M179.8,429.1 L174.2,430.95 L174.2,427.25Z" fill="#111"/>
<line x1="121.8" y1="469.7" x2="121.8" y2="506.1" stroke="#8a8a8a" stroke-width="1.3" stroke-linecap="butt"/>
<line x1="121.8" y1="501.4" x2="179.8" y2="501.4" stroke="#8a8a8a" stroke-width="1.3" stroke-linecap="butt"/>
<path d="M121.8,501.4 L127.4,499.55 L127.4,503.25Z" fill="#111"/>
<path d="M179.8,501.4 L174.2,503.25 L174.2,499.55Z" fill="#111"/>
<rect x="126.6" y="367.2" width="48.8" height="19.3" fill="#a9a9a9" stroke="#3a3a3a" stroke-width="1.0"/>
<line x1="126.6" y1="366.7" x2="126.6" y2="387" stroke="#222" stroke-width="1.4" stroke-linecap="butt"/>
<rect x="111.4" y="451.2" width="18.8" height="18.5" fill="#a9a9a9" stroke="#3a3a3a" stroke-width="1.0"/>
<line x1="111.4" y1="450.7" x2="111.4" y2="470.2" stroke="#222" stroke-width="1.4" stroke-linecap="butt"/>
<rect x="141.1" y="451.2" width="18.8" height="18.5" fill="#a9a9a9" stroke="#3a3a3a" stroke-width="1.0"/>
<line x1="141.1" y1="450.7" x2="141.1" y2="470.2" stroke="#222" stroke-width="1.4" stroke-linecap="butt"/>
<rect x="170.5" y="451.2" width="18.8" height="18.5" fill="#a9a9a9" stroke="#3a3a3a" stroke-width="1.0"/>
<line x1="170.5" y1="450.7" x2="170.5" y2="470.2" stroke="#222" stroke-width="1.4" stroke-linecap="butt"/>
<line x1="126.6" y1="376.6" x2="175.4" y2="376.6" stroke="#333" stroke-width="1" stroke-linecap="butt"/>
<line x1="150.6" y1="367.2" x2="150.6" y2="386.5" stroke="#333" stroke-width="1" stroke-linecap="butt"/>
<line x1="111.4" y1="461.1" x2="130.2" y2="461.1" stroke="#333" stroke-width="1" stroke-linecap="butt"/>
<line x1="141.1" y1="461.1" x2="159.9" y2="461.1" stroke="#333" stroke-width="1" stroke-linecap="butt"/>
<line x1="170.5" y1="461.1" x2="189.3" y2="461.1" stroke="#333" stroke-width="1" stroke-linecap="butt"/>
<line x1="150.6" y1="451.2" x2="150.6" y2="469.7" stroke="#333" stroke-width="1" stroke-linecap="butt"/>
<line x1="179.8" y1="451.2" x2="179.8" y2="469.7" stroke="#333" stroke-width="1.2" stroke-linecap="butt"/>
<line x1="121.8" y1="453.9" x2="121.8" y2="469.7" stroke="#666" stroke-width="1.3" stroke-linecap="butt"/>
<text x="152" y="322.8" font-size="8.2" text-anchor="middle" font-weight="bold" fill="#111"  textLength="10.5" lengthAdjust="spacingAndGlyphs">3.3</text>
<text x="151.5" y="330.3" font-size="8.2" text-anchor="middle" font-weight="bold" fill="#111"  textLength="27" lengthAdjust="spacingAndGlyphs">(0.130&#8221;)</text>
<text x="60.3" y="375.8" font-size="8.2" text-anchor="middle" font-weight="bold" fill="#111"  textLength="9.4" lengthAdjust="spacingAndGlyphs">1.5</text>
<text x="59.85" y="383.3" font-size="8.2" text-anchor="middle" font-weight="bold" fill="#111"  textLength="27.5" lengthAdjust="spacingAndGlyphs">(0.059&#8221;)</text>
<text x="121.1" y="411.7" font-size="8.2" text-anchor="middle" font-weight="bold" fill="#111"  textLength="9.4" lengthAdjust="spacingAndGlyphs">1.2</text>
<text x="121" y="419.9" font-size="8.2" text-anchor="middle" font-weight="bold" fill="#111"  textLength="28" lengthAdjust="spacingAndGlyphs">(0.047&#8221;)</text>
<text x="121.35" y="442" font-size="8.2" text-anchor="middle" font-weight="bold" fill="#111"  textLength="13.3" lengthAdjust="spacingAndGlyphs">(3x)</text>
<text x="166.1" y="416.1" font-size="8.2" text-anchor="middle" font-weight="bold" fill="#111"  textLength="10" lengthAdjust="spacingAndGlyphs">2.3</text>
<text x="165.85" y="423.8" font-size="8.2" text-anchor="middle" font-weight="bold" fill="#111"  textLength="26" lengthAdjust="spacingAndGlyphs">(0.091&#8221;)</text>
<text x="253.7" y="414.9" font-size="8.2" text-anchor="middle" font-weight="bold" fill="#111"  textLength="10" lengthAdjust="spacingAndGlyphs">6.4</text>
<text x="253.55" y="423" font-size="8.2" text-anchor="middle" font-weight="bold" fill="#111"  textLength="27" lengthAdjust="spacingAndGlyphs">(0.252&#8221;)</text>
<text x="60.3" y="458.8" font-size="8.2" text-anchor="middle" font-weight="bold" fill="#111"  textLength="9.6" lengthAdjust="spacingAndGlyphs">1.5</text>
<text x="59.75" y="466.6" font-size="8.2" text-anchor="middle" font-weight="bold" fill="#111"  textLength="27.9" lengthAdjust="spacingAndGlyphs">(0.059&#8221;)</text>
<text x="150.9" y="490.5" font-size="8.2" text-anchor="middle" font-weight="bold" fill="#111"  textLength="10" lengthAdjust="spacingAndGlyphs">4.6</text>
<text x="150.95" y="497.8" font-size="8.2" text-anchor="middle" font-weight="bold" fill="#111"  textLength="27.5" lengthAdjust="spacingAndGlyphs">(0.181&#8221;)</text>
<text x="76" y="528.9" font-size="9.7" text-anchor="start" font-weight="bold" fill="#111"  textLength="153.2" lengthAdjust="spacingAndGlyphs">Dimensions in Millimeters (Inches)</text>
</svg>
</body></html>
